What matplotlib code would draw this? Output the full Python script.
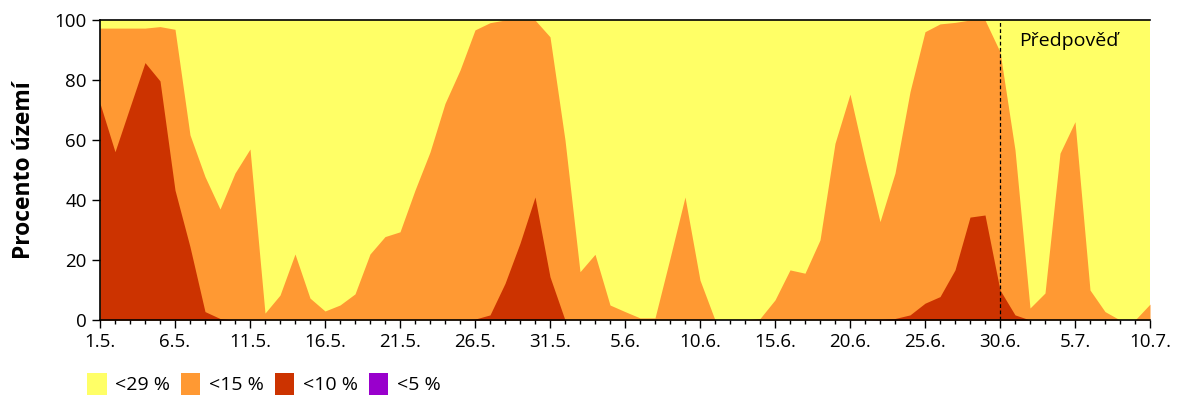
import numpy as np
import matplotlib
matplotlib.use('Agg')
import matplotlib.pyplot as plt
import matplotlib.ticker as ticker
from matplotlib.patches import Patch

plt.rcParams['font.family'] = ['Open Sans', 'DejaVu Sans']

# days from 1.5. to 10.7. (71 days)
days = np.arange(71)
tick_labels = ['1.5.', '6.5.', '11.5.', '16.5.', '21.5.', '26.5.', '31.5.', '5.6.',
               '10.6.', '15.6.', '20.6.', '25.6.', '30.6.', '5.7.', '10.7.']

# percent of territory per class (cumulative)
below_29 = [100] * 71
below_15 = [97.3, 97.3, 97.3, 97.3, 97.8, 96.9, 61.7, 47.8, 37.0, 49.0,
            57.0, 2.3, 8.3, 22.0, 7.3, 3.0, 5.0, 8.7, 22.0, 27.8,
            29.4, 43.3, 56.0, 72.2, 83.3, 96.7, 99.1, 100, 100, 100,
            94.4, 60.0, 16.1, 21.9, 5.0, 2.8, 0.7, 0.7, 20.6, 41.0,
            13.3, 0, 0, 0, 0.5, 6.7, 16.7, 15.6, 26.7, 58.9,
            75.3, 53.3, 32.8, 49.0, 76.1, 96.1, 98.7, 99.2, 100, 100,
            89.4, 56.7, 4.0, 9.0, 55.6, 66.1, 10.0, 2.8, 0, 0,
            5.3]
below_10 = [72.2, 56.1, 71.0, 85.8, 79.7, 43.3, 24.4, 2.8, 0.5, 0,
            0, 0, 0, 0, 0, 0, 0, 0, 0, 0,
            0, 0, 0, 0, 0, 0.3, 1.7, 12.2, 25.6, 41.0,
            14.4, 0, 0, 0, 0, 0, 0, 0, 0, 0,
            0, 0, 0, 0, 0, 0, 0, 0, 0, 0,
            0, 0, 0.2, 0.5, 1.7, 5.6, 7.8, 16.7, 34.3, 35.0,
            10.0, 1.7, 0, 0, 0, 0, 0, 0, 0, 0,
            0]
below_5 = [0] * 71

labels = ['<29 %', '<15 %', '<10 %', '<5 %']
colors = ['#FFFF66', '#FF9933', '#CC3300', '#9900CC']
forecast_day = 60  # 30.6.

fig = plt.figure(figsize=(12, 4), dpi=100)
ax = fig.add_axes([100/1200, 80/400, 1050/1200, 300/400])

for vals, c in zip([below_29, below_15, below_10, below_5], colors):
    ax.fill_between(days, 0, vals, color=c, linewidth=0)

ax.axvline(forecast_day, color='black', linestyle=(0, (3, 2)), linewidth=0.9)
ax.text(forecast_day + 1.3, 93, 'Předpověď', fontsize=14, va='center', ha='left')

ax.set_xlim(0, 70)
ax.set_ylim(0, 100)
ax.xaxis.set_major_locator(ticker.FixedLocator(np.arange(0, 71, 5)))
ax.xaxis.set_minor_locator(ticker.MultipleLocator(1))
ax.set_xticklabels(tick_labels)
ax.yaxis.set_major_locator(ticker.MultipleLocator(20))
ax.tick_params(axis='both', which='major', direction='out', length=6, width=1, labelsize=13.5)
ax.tick_params(axis='x', which='minor', direction='out', length=3, width=1)
ax.spines['right'].set_visible(False)
for s in ['left', 'bottom', 'top']:
    ax.spines[s].set_linewidth(1.2)
ax.set_ylabel('Procento území', fontsize=16.5, fontweight='bold', labelpad=13)

handles = [Patch(facecolor=c, edgecolor='none') for c in colors]
fig.legend(handles, labels, loc='lower left', bbox_to_anchor=(0.058, -0.03), ncol=4,
           frameon=False, fontsize=14, handlelength=1.0, handleheight=1.3,
           handletextpad=0.45, columnspacing=0.55)

fig.savefig('out.png', dpi=100)
